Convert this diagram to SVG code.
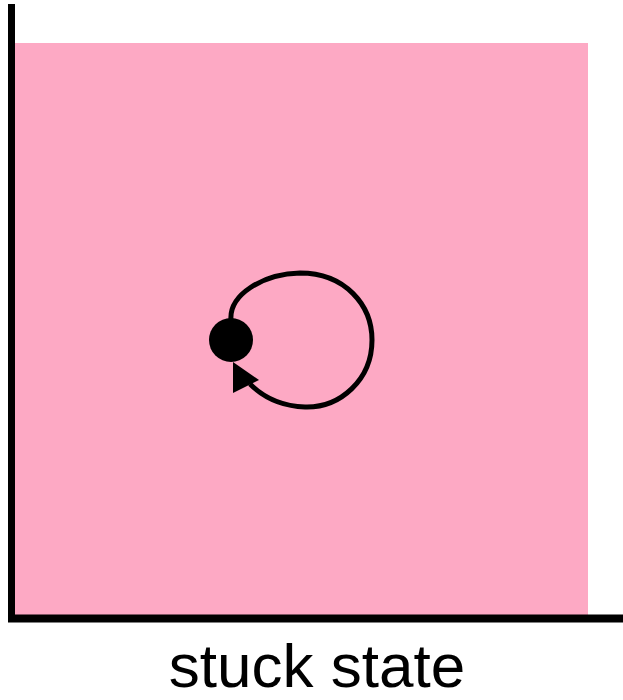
<svg xmlns="http://www.w3.org/2000/svg" width="623" height="700" viewBox="0 0 623 700">
<style>
.ax{stroke:#000;stroke-width:7;fill:none}
.loop{stroke:#000;stroke-width:5;fill:none}
.lbl{font-family:"Liberation Sans",Arial,sans-serif;font-size:62px;fill:#000}
</style>
<rect x="0" y="0" width="623" height="700" fill="#fff"/>
<rect id="region" x="15" y="43" width="573" height="572" fill="#FDA9C4"/>
<g id="axes">
<line class="ax" x1="11.5" y1="4" x2="11.5" y2="622"/>
<line class="ax" x1="8" y1="618.5" x2="623" y2="618.5" style="stroke-width:8"/>
</g>
<g id="connectors">
<path class="loop" d="M231,320 C229,295 262,274 300,273 C345,273 372,305 372,340 C372,380 340,408 305,407 C280,406 262,396 250,384"/>
<polygon points="233,362 259,380 233,393" fill="#000"/>
</g>
<g id="state">
<circle cx="231" cy="340" r="22" fill="#000"/>
</g>
<text class="lbl" x="317" y="687" text-anchor="middle">stuck state</text>
</svg>
